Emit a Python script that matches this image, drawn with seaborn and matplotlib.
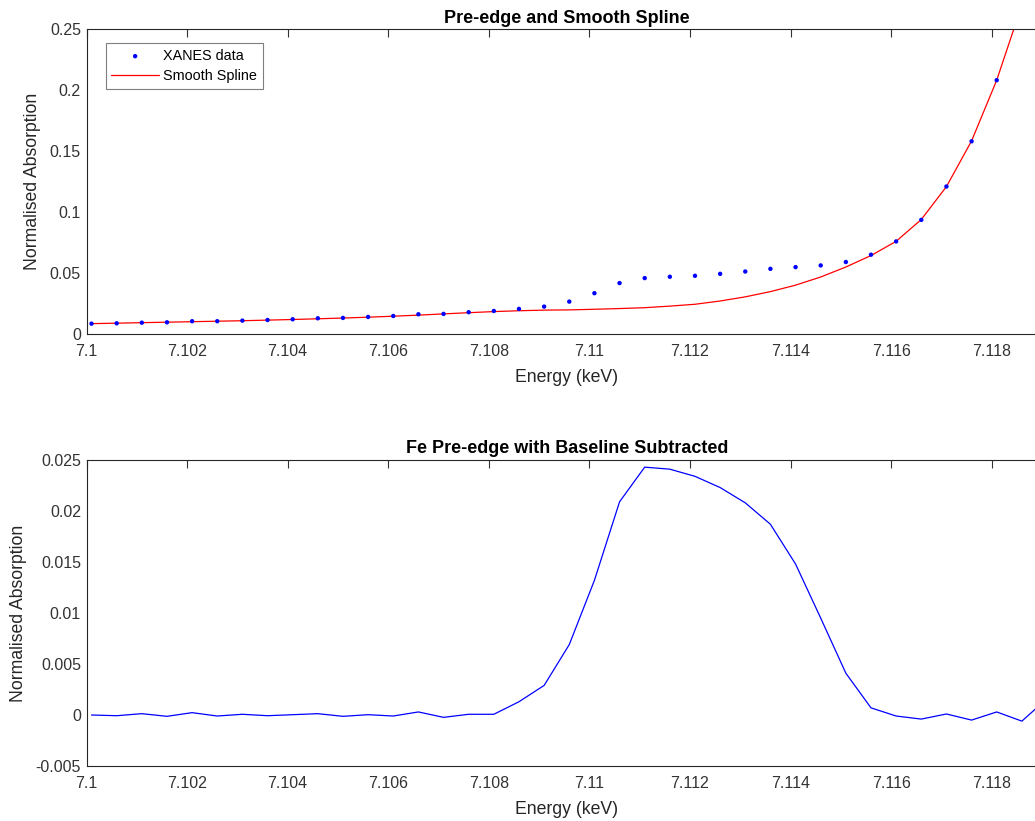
import matplotlib
matplotlib.use("Agg")
import matplotlib.pyplot as plt
from matplotlib.ticker import FuncFormatter, MultipleLocator
import pandas as pd
import seaborn as sns

# Photon energies (keV)
energy = [7.1001, 7.1006, 7.1011, 7.1016, 7.1021, 7.1026, 7.1031, 7.1036,
          7.1041, 7.1046, 7.1051, 7.1056, 7.1061, 7.1066, 7.1071, 7.1076,
          7.1081, 7.1086, 7.1091, 7.1096, 7.1101, 7.1106, 7.1111, 7.1116,
          7.1121, 7.1126, 7.1131, 7.1136, 7.1141, 7.1146, 7.1151, 7.1156,
          7.1161, 7.1166, 7.1171, 7.1176, 7.1181, 7.1186, 7.1191]

# Normalised XANES absorption
xanes = [0.0085, 0.0088, 0.0093, 0.0096, 0.0105, 0.0105, 0.0110, 0.0115,
         0.0121, 0.0129, 0.0132, 0.0140, 0.0148, 0.0162, 0.0165, 0.0179,
         0.0189, 0.0206, 0.0225, 0.0266, 0.0335, 0.0418, 0.0459, 0.0470,
         0.0478, 0.0494, 0.0513, 0.0535, 0.0549, 0.0563, 0.0591, 0.0651,
         0.0760, 0.0937, 0.1211, 0.1582, 0.2084, 0.2700]

# Smooth spline baseline evaluated on the same energies
spline = [0.0085, 0.0089, 0.0093, 0.0097, 0.0101, 0.0105, 0.0109, 0.0114,
          0.0119, 0.0125, 0.0131, 0.0138, 0.0146, 0.0155, 0.0165, 0.0175,
          0.0184, 0.0191, 0.0196, 0.0198, 0.0203, 0.0209, 0.0216, 0.0229,
          0.0244, 0.0271, 0.0305, 0.0348, 0.0401, 0.0468, 0.0550, 0.0644,
          0.0761, 0.0940, 0.1210, 0.1585, 0.2084, 0.2700]

# Pre-edge after baseline subtraction
pre_edge = [0.0000, -0.00007, 0.00013, -0.00013, 0.00023, -0.0001, 0.00007,
            -0.00007, 0.00003, 0.00013, -0.00013, 0.00003, -0.0001, 0.0003,
            -0.00023, 0.00007, 0.00007, 0.0013, 0.0029, 0.0069, 0.0132,
            0.0209, 0.0243, 0.0241, 0.0234, 0.0223, 0.0208, 0.0187, 0.0148,
            0.0095, 0.0041, 0.0007, -0.0001, -0.0004, 0.0001, -0.0005,
            0.0003, -0.0006, 0.0016]

top_df = pd.DataFrame({"energy": energy[:len(xanes)], "xanes": xanes,
                       "spline": spline})
bot_df = pd.DataFrame({"energy": energy, "pre_edge": pre_edge})

sns.set_style("white")
plt.rcParams["font.family"] = ["Liberation Sans", "DejaVu Sans"]

W, H = 1035, 821
fig = plt.figure(figsize=(W / 100, H / 100), dpi=100)

x_left = 86.5
x_right = 1047.0
ax1 = fig.add_axes([x_left / W, (H - 334) / H, (x_right - x_left) / W, 304.5 / H])
ax2 = fig.add_axes([x_left / W, (H - 766) / H, (x_right - x_left) / W, 306 / H])

ink = "#262626"
fmt = FuncFormatter(lambda v, p: "%g" % round(v, 6))

sns.scatterplot(data=top_df, x="energy", y="xanes", ax=ax1, color="blue",
                marker="o", s=10, edgecolor="none", label="XANES data",
                zorder=3)
sns.lineplot(data=top_df, x="energy", y="spline", ax=ax1, color="red",
             linewidth=0.9, sort=False, estimator=None, label="Smooth Spline",
             zorder=2)
sns.lineplot(data=bot_df, x="energy", y="pre_edge", ax=ax2, color="blue",
             linewidth=0.9, sort=False, estimator=None, legend=False)

ax1.set_ylim(0, 0.25)
ax1.yaxis.set_major_locator(MultipleLocator(0.05))
ax2.set_ylim(-0.005, 0.025)
ax2.yaxis.set_major_locator(MultipleLocator(0.005))

ax1.set_title("Pre-edge and Smooth Spline", fontsize=13, fontweight="bold",
              pad=5, color="black")
ax2.set_title("Fe Pre-edge with Baseline Subtracted", fontsize=13,
              fontweight="bold", pad=5, color="black")

for ax in (ax1, ax2):
    ax.set_xlim(7.1, 7.1191)
    ax.xaxis.set_major_locator(MultipleLocator(0.002))
    ax.xaxis.set_major_formatter(fmt)
    ax.yaxis.set_major_formatter(fmt)
    ax.set_xlabel("Energy (keV)", fontsize=12.7, color=ink, labelpad=7.5)
    ax.set_ylabel("Normalised Absorption", fontsize=12.7, color=ink,
                  labelpad=6)
    ax.tick_params(direction="in", length=6, width=0.8, colors="#333333",
                   labelsize=11.5, top=True, right=True)
    ax.tick_params(axis="x", pad=7)
    ax.tick_params(axis="y", pad=4)
    for s in ax.spines.values():
        s.set_visible(True)
        s.set_color(ink)
        s.set_linewidth(0.8)
    ax.grid(False)

leg = ax1.legend(loc="upper left", bbox_to_anchor=(0.0198, 0.955),
                 fontsize=10.4, frameon=True, fancybox=False, framealpha=1,
                 edgecolor="#7f7f7f", handlelength=3.3, handletextpad=0.3,
                 borderpad=0.4, labelspacing=0.4, borderaxespad=0)
leg.get_frame().set_linewidth(0.8)
for t in leg.get_texts():
    t.set_color("black")

fig.savefig("out.png", dpi=100, facecolor="white")
